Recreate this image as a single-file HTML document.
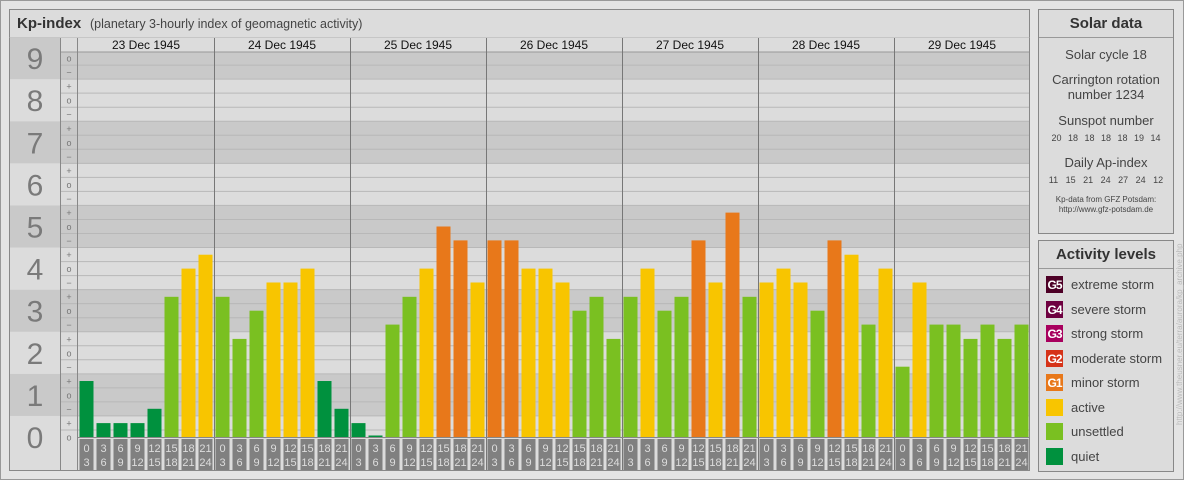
<!DOCTYPE html>
<html><head><meta charset="utf-8"><style>
body{margin:0;width:1184px;height:480px;background:#e4e4e4;font-family:"Liberation Sans",sans-serif;position:relative;overflow:hidden}
.abs{position:absolute}
</style></head><body>
<div class="abs" style="left:0;top:0;width:1182px;height:478px;border:1px solid #999"></div>
<svg class="abs" style="left:0;top:0" width="1184" height="480">
<g id="chart"></g>
</svg>
<div class="abs" style="left:1038px;top:9px;width:134px;height:223px;border:1px solid #888;background:#dcdcdc;text-align:center;color:#444">
<div style="height:27px;line-height:27px;border-bottom:1px solid #999;font-weight:bold;font-size:15px;color:#333">Solar data</div>
<div style="font-size:13px;margin-top:9px">Solar cycle 18</div>
<div style="font-size:13px;margin-top:10px;line-height:15px">Carrington rotation<br>number 1234</div>
<div style="font-size:13px;margin-top:11px">Sunspot number</div>
<div style="font-size:9px;margin-top:5px;word-spacing:4px">20 18 18 18 18 19 14</div>
<div style="font-size:13px;margin-top:12px">Daily Ap-index</div>
<div style="font-size:9px;margin-top:5px;word-spacing:5px">11 15 21 24 27 24 12</div>
<div style="font-size:8px;margin-top:10px;line-height:10px">Kp-data from GFZ Potsdam:<br>http://www.gfz-potsdam.de</div>
</div>
<div class="abs" style="left:1038px;top:240px;width:134px;height:230px;border:1px solid #888;background:#dcdcdc;color:#444">
<div style="height:27px;line-height:27px;border-bottom:1px solid #999;font-weight:bold;font-size:15px;color:#333;text-align:center">Activity levels</div>
<div id="legend"></div>
</div>
<div class="abs" style="left:1110px;top:350px;width:140px;transform:rotate(-90deg);transform-origin:center;font-size:8px;color:#bbb;white-space:nowrap;text-align:center;line-height:10px">http://www.theusner.eu/terra/aurora/kp_archive.php</div>
<script>
const days=["23 Dec 1945","24 Dec 1945","25 Dec 1945","26 Dec 1945","27 Dec 1945","28 Dec 1945","29 Dec 1945"];
const kpValues=[
1.33,0.33,0.33,0.33,0.67,3.33,4.0,4.33,
3.33,2.33,3.0,3.67,3.67,4.0,1.33,0.67,
0.33,0.0,2.67,3.33,4.0,5.0,4.67,3.67,
4.67,4.67,4.0,4.0,3.67,3.0,3.33,2.33,
3.33,4.0,3.0,3.33,4.67,3.67,5.33,3.33,
3.67,4.0,3.67,3.0,4.67,4.33,2.67,4.0,
1.67,3.67,2.67,2.67,2.33,2.67,2.33,2.67];
const hourStarts=["0","3","6","9","12","15","18","21"];
const hourEnds=["3","6","9","12","15","18","21","24"];
const levelNames=["extreme storm","severe storm","strong storm","moderate storm","minor storm","active","unsettled","quiet"];
const levelTags=["G5","G4","G3","G2","G1","","",""];
const levelColors=["#4d0026","#6e0040","#a8005e","#d63318","#e8781a","#f8c500","#7ac021","#00913e"];
const NS="http://www.w3.org/2000/svg";
const g=document.getElementById('chart');
const X0=78,SLOT=17,BASE=437,UNIT=42.1;
const y=v=>BASE-v*UNIT;
const xs=i=>X0+i*SLOT;
function el(t,a,p){const e=document.createElementNS(NS,t);for(const k in a)e.setAttribute(k,a[k]);(p||g).appendChild(e);return e;}
function color(v){if(v>=8.67)return levelColors[0];if(v>=7.67)return levelColors[1];if(v>=6.67)return levelColors[2];if(v>=5.67)return levelColors[3];if(v>=4.67)return levelColors[4];if(v>=3.67)return levelColors[5];if(v>=1.67)return levelColors[6];return levelColors[7];}
// panel
let r=el('rect',{x:9.5,y:9.5,width:1020,height:461,fill:'#dcdcdc',stroke:'#888'});

el('line',{x1:9,x2:1030,y1:37.5,y2:37.5,stroke:'#999'});
let t=el('text',{x:17,y:28,'font-size':15,'font-weight':'bold',fill:'#333'});t.textContent='Kp-index';

t=el('text',{x:90,y:28,'font-size':12.5,fill:'#444'});t.textContent='(planetary 3-hourly index of geomagnetic activity)';

// bands
for(let k=0;k<=9;k++){
 const top=y(Math.min(k+0.5,9.5)),bot=k==0?BASE:y(k-0.5);
 const b=el('rect',{x:10,y:top,width:1019,height:bot-top,fill:k%2?'#c9c9c9':'#dcdcdc'});
 
 const lt=el('text',{x:35,y:y(k)+11,'font-size':30,'text-anchor':'middle',fill:'#7a7a7a'});lt.textContent=k;
 
}
// minor lines & marks
const marks=["−","o","+"];
for(let s=0;s<=28;s++){
 const v=s/3;
 if(v>0&&s%3!=2&&v<9.3){}
 const yy=y(v)+7;
 if(s>0&&s<=28&&yy<BASE-1) el('line',{x1:60,x2:1029,y1:yy,y2:yy,stroke:'#b8b8b8','stroke-width':1});
 if(s<=27||true){const m=el('text',{x:69,y:y(v)+3.5,'font-size':9,'text-anchor':'middle',fill:'#777'});m.textContent=marks[(s+1)%3];
 }
}
// header row
el('rect',{x:60,y:38,width:969,height:14,fill:'#dcdcdc'});
el('line',{x1:60,x2:1029,y1:52,y2:52,stroke:'#999'});
el('line',{x1:60.5,x2:60.5,y1:38,y2:470,stroke:'#888'});
el('line',{x1:77.5,x2:77.5,y1:38,y2:470,stroke:'#888'});
days.forEach((d,i)=>{
 const x=xs(i*8);
 if(i>0) el('line',{x1:x+0.5,x2:x+0.5,y1:38,y2:470,stroke:'#777'});
 const dt=el('text',{x:x+68,y:49,'font-size':12,'text-anchor':'middle',fill:'#111'});dt.textContent=d;
 
});
// bars
kpValues.forEach((v,i)=>{
 const x=xs(i)+1.5;
 const h=Math.max(v*UNIT,1.5);
 const b=el('rect',{x:x,y:BASE-h,width:14,height:h,fill:color(v)});
 
 const bx=el('rect',{x:x,y:439,width:14,height:31,fill:'#808080'});
 
 const h1=el('text',{x:x+7,y:452,'font-size':11,'text-anchor':'middle',fill:'#ddd'});h1.textContent=hourStarts[i%8];
 
 const h2=el('text',{x:x+7,y:466,'font-size':11,'text-anchor':'middle',fill:'#ddd'});h2.textContent=hourEnds[i%8];
 
});
el('line',{x1:78,x2:1029,y1:437.5,y2:437.5,stroke:'#888'});
// legend
const L=document.getElementById('legend');
levelNames.forEach((n,i)=>{
 const row=document.createElement('div');
 
 
 row.style.cssText='position:absolute;left:7px;top:'+(35+i*24.5)+'px;height:18px;font-size:13px;line-height:18px;white-space:nowrap';
 row.innerHTML='<span style="display:inline-block;width:17px;height:17px;vertical-align:top;background:'+levelColors[i]+';color:#fff;font-weight:bold;font-size:12px;text-align:center;letter-spacing:-1px">'+levelTags[i]+'</span><span style="margin-left:8px">'+n+'</span>';
 L.appendChild(row);
});
</script>
</body></html>
